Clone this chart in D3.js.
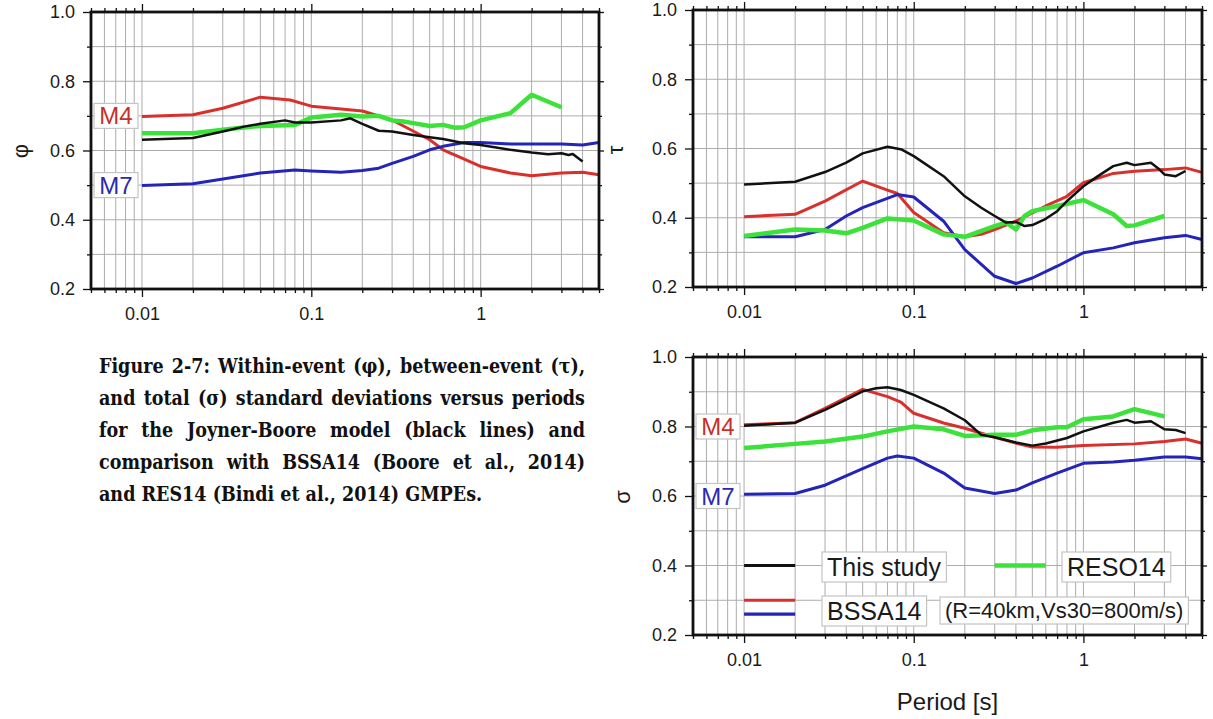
<!DOCTYPE html>
<html><head><meta charset="utf-8">
<script src="https://cdn.jsdelivr.net/npm/d3@7"></script>
<style>body{margin:0;background:#fff;} svg{display:block}</style>
</head><body>
<svg id="c" width="1213" height="719"></svg>
<script>
// ---------------- data ----------------
const xTickLabels = [0.01, 0.1, 1];
const yTickLabels = [0.2, 0.4, 0.6, 0.8, 1.0];
const yMinorTicks = [0.3, 0.5, 0.7, 0.9];

// within-event phi
const phiThisStudy = [[0.01,0.631],[0.02,0.636],[0.03,0.655],[0.04,0.669],[0.05,0.677],[0.07,0.687],[0.08,0.681],[0.1,0.681],[0.15,0.687],[0.17,0.693],[0.2,0.677],[0.25,0.657],[0.3,0.655],[0.4,0.645],[0.5,0.638],[0.6,0.633],[0.8,0.621],[1,0.616],[1.5,0.602],[2,0.594],[2.5,0.589],[3,0.592],[3.3,0.587],[3.5,0.59],[4,0.568]];
const phiBSSA_M4 = [[0.01,0.698],[0.02,0.703],[0.03,0.722],[0.05,0.754],[0.075,0.746],[0.1,0.728],[0.15,0.72],[0.2,0.714],[0.3,0.688],[0.5,0.631],[0.6,0.602],[0.8,0.575],[1,0.554],[1.5,0.535],[2,0.527],[3,0.535],[4,0.537],[5,0.530]];
const phiBSSA_M7 = [[0.01,0.499],[0.02,0.504],[0.05,0.535],[0.08,0.544],[0.1,0.541],[0.15,0.537],[0.2,0.542],[0.25,0.549],[0.3,0.563],[0.4,0.583],[0.5,0.602],[0.6,0.612],[0.8,0.623],[1,0.623],[1.5,0.619],[2,0.619],[3,0.619],[4,0.616],[5,0.623]];
const phiRESO14 = [[0.01,0.65],[0.02,0.65],[0.03,0.66],[0.05,0.671],[0.08,0.674],[0.1,0.695],[0.15,0.703],[0.2,0.698],[0.25,0.700],[0.3,0.687],[0.35,0.684],[0.4,0.679],[0.5,0.671],[0.6,0.674],[0.7,0.666],[0.8,0.667],[1,0.687],[1.5,0.708],[2,0.761],[3,0.725]];

// between-event tau
const tauThisStudy = [[0.01,0.496],[0.02,0.504],[0.03,0.532],[0.04,0.559],[0.05,0.586],[0.07,0.605],[0.085,0.597],[0.1,0.578],[0.15,0.52],[0.2,0.462],[0.25,0.429],[0.3,0.405],[0.35,0.386],[0.4,0.388],[0.45,0.376],[0.5,0.379],[0.6,0.397],[0.7,0.419],[0.8,0.448],[1,0.491],[1.2,0.518],[1.5,0.549],[1.8,0.559],[2,0.552],[2.5,0.559],[2.8,0.54],[3,0.525],[3.5,0.52],[4,0.535]];
const tauBSSA_M4 = [[0.01,0.403],[0.02,0.41],[0.03,0.448],[0.05,0.506],[0.07,0.48],[0.08,0.47],[0.1,0.415],[0.15,0.357],[0.2,0.345],[0.25,0.352],[0.3,0.366],[0.4,0.39],[0.5,0.414],[0.6,0.434],[0.8,0.462],[1,0.501],[1.5,0.528],[2,0.534],[3,0.539],[4,0.544],[5,0.531]];
const tauBSSA_M7 = [[0.01,0.345],[0.02,0.345],[0.03,0.366],[0.04,0.405],[0.05,0.429],[0.08,0.467],[0.1,0.46],[0.15,0.39],[0.2,0.308],[0.3,0.231],[0.4,0.21],[0.5,0.226],[0.7,0.26],[1,0.299],[1.5,0.313],[2,0.328],[3,0.342],[4,0.349],[5,0.337]];
const tauRESO14 = [[0.01,0.347],[0.02,0.366],[0.03,0.363],[0.04,0.355],[0.05,0.371],[0.07,0.398],[0.1,0.392],[0.15,0.352],[0.2,0.345],[0.3,0.376],[0.35,0.386],[0.4,0.366],[0.45,0.405],[0.5,0.419],[0.7,0.434],[1,0.451],[1.5,0.41],[1.8,0.376],[2,0.378],[3,0.405]];

// total sigma
const sigmaThisStudy = [[0.01,0.802],[0.02,0.811],[0.03,0.848],[0.04,0.877],[0.05,0.901],[0.06,0.91],[0.07,0.913],[0.084,0.905],[0.1,0.891],[0.15,0.852],[0.2,0.818],[0.25,0.776],[0.3,0.769],[0.4,0.754],[0.5,0.745],[0.6,0.751],[0.8,0.767],[1,0.786],[1.5,0.811],[1.8,0.819],[2,0.811],[2.5,0.815],[3,0.792],[3.5,0.79],[4,0.781]];
const sigmaBSSA_M4 = [[0.01,0.805],[0.02,0.811],[0.03,0.852],[0.05,0.907],[0.07,0.886],[0.084,0.87],[0.1,0.838],[0.15,0.81],[0.2,0.795],[0.3,0.769],[0.4,0.752],[0.5,0.741],[0.7,0.74],[1,0.745],[2,0.75],[3,0.757],[4,0.764],[5,0.752]];
const sigmaBSSA_M7 = [[0.01,0.605],[0.02,0.607],[0.03,0.631],[0.05,0.679],[0.07,0.709],[0.08,0.715],[0.1,0.709],[0.15,0.666],[0.2,0.623],[0.3,0.607],[0.4,0.617],[0.5,0.638],[0.7,0.666],[1,0.694],[1.5,0.698],[2,0.703],[3,0.712],[4,0.712],[5,0.707]];
const sigmaRESO14 = [[0.01,0.738],[0.02,0.75],[0.03,0.757],[0.05,0.771],[0.07,0.786],[0.1,0.8],[0.15,0.792],[0.2,0.773],[0.3,0.776],[0.4,0.776],[0.5,0.789],[0.7,0.798],[0.8,0.798],[1,0.821],[1.5,0.829],[2,0.85],[3,0.829]];

const legendLabels = ["This study", "RESO14", "BSSA14", "(R=40km,Vs30=800m/s)"];
const magLabels = ["M4", "M7"];
const captionLines = [
  "Figure 2-7: Within-event (\u03c6), between-event (\u03c4),",
  "and total (\u03c3) standard deviations versus periods",
  "for the Joyner-Boore model (black lines) and",
  "comparison with BSSA14 (Boore et al., 2014)",
  "and RES14 (Bindi et al., 2014) GMPEs."
];

// ---------------- styles ----------------
const C = {black:"#111111", red:"#d8302c", blue:"#2424b8", green:"#3ce23a"};
const W = {black:2.5, red:3, blue:3, green:4.5};
const SANS = "'Liberation Sans', Arial, Helvetica, sans-serif";
const svg = d3.select("#c");

const xGrid = [];
[0.001,0.01,0.1,1].forEach(d=>{ for(let m=1;m<=9;m++){ const v=+(m*d).toPrecision(3); if(v>=0.005 && v<=5) xGrid.push(v);} });
const xMajor = xTickLabels;
const xMinor = xGrid.filter(v=>!xMajor.includes(v));
const yGrid = [0.3,0.4,0.5,0.6,0.7,0.8,0.9];

function styleAxis(sel){
  sel.select(".domain").remove();
  sel.selectAll(".tick line").attr("stroke","#111").attr("stroke-width",1.3);
  sel.selectAll("text").attr("font-family",SANS).attr("font-size",18).attr("fill","#1a1a1a");
}

function drawPanel(cfg){
  const g = svg.append("g");
  const x = d3.scaleLog().domain([0.005,5]).range([cfg.left,cfg.right]);
  const y = d3.scaleLinear().domain([0.2,1.0]).range([cfg.bottom,cfg.top]);
  // grid
  g.append("g").selectAll("line").data(xGrid).join("line")
    .attr("x1",d=>x(d)).attr("x2",d=>x(d)).attr("y1",cfg.top).attr("y2",cfg.bottom)
    .attr("stroke","#acacac").attr("stroke-width",1);
  g.append("g").selectAll("line").data(yGrid).join("line")
    .attr("y1",d=>y(d)).attr("y2",d=>y(d)).attr("x1",cfg.left).attr("x2",cfg.right)
    .attr("stroke","#acacac").attr("stroke-width",1);
  // axes
  const ax = (gen, tx, ty)=> g.append("g").attr("transform",`translate(${tx},${ty})`).call(gen).call(styleAxis);
  ax(d3.axisBottom(x).tickValues(xMajor).tickSize(8).tickPadding(10).tickFormat(d=>String(d)), 0, cfg.bottom);
  ax(d3.axisBottom(x).tickValues(xMinor).tickSize(4).tickFormat(""), 0, cfg.bottom);
  ax(d3.axisTop(x).tickValues(xMajor).tickSize(8).tickFormat(""), 0, cfg.top);
  ax(d3.axisTop(x).tickValues(xMinor).tickSize(4).tickFormat(""), 0, cfg.top);
  ax(d3.axisLeft(y).tickValues(yTickLabels).tickSize(8).tickPadding(8).tickFormat(d3.format(".1f")), cfg.left, 0);
  ax(d3.axisLeft(y).tickValues(yMinorTicks).tickSize(4).tickFormat(""), cfg.left, 0);
  ax(d3.axisRight(y).tickValues(yTickLabels).tickSize(5).tickFormat(""), cfg.right, 0);
  ax(d3.axisRight(y).tickValues(yMinorTicks).tickSize(3).tickFormat(""), cfg.right, 0);
  // series
  const line = d3.line().x(d=>x(d[0])).y(d=>y(d[1]));
  cfg.series.forEach(s=>{
    g.append("path").attr("d",line(s.data)).attr("fill","none")
      .attr("stroke",C[s.c]).attr("stroke-width",W[s.c])
      .attr("stroke-linejoin","round").attr("stroke-linecap","butt");
  });
  // frame
  g.append("rect").attr("x",cfg.left).attr("y",cfg.top)
    .attr("width",cfg.right-cfg.left).attr("height",cfg.bottom-cfg.top)
    .attr("fill","none").attr("stroke","#111").attr("stroke-width",2.8);
  // y label (rotated)
  g.append("text").attr("transform",`translate(${cfg.ylabX},${cfg.ylabY}) rotate(-90)`)
    .attr("text-anchor","middle").attr("dy","0.35em")
    .attr("font-family",SANS).attr("font-size",22).attr("fill","#1a1a1a").text(cfg.ylabel);
  return {g,x,y};
}

function magBox(p, cfg, label, val, color){
  const cy = p.y(val);
  const bx = cfg.left + 3, bw = 44, bh = 25;
  p.g.append("rect").attr("x",bx).attr("y",cy-bh/2).attr("width",bw).attr("height",bh)
    .attr("fill","#fff").attr("stroke","#c4c4c4").attr("stroke-width",1.2);
  p.g.append("text").attr("x",bx+bw/2).attr("y",cy+8.6).attr("text-anchor","middle")
    .attr("font-family",SANS).attr("font-size",24).attr("fill",color).text(label);
}

const cfgPhi = {left:91,right:599,top:12,bottom:289,ylabel:"\u03c6",ylabX:20,ylabY:151,
  series:[{data:phiBSSA_M4,c:"red"},{data:phiBSSA_M7,c:"blue"},{data:phiRESO14,c:"green"},{data:phiThisStudy,c:"black"}]};
const cfgTau = {left:693,right:1202,top:10,bottom:287,ylabel:"\u03c4",ylabX:615,ylabY:150,
  series:[{data:tauBSSA_M4,c:"red"},{data:tauBSSA_M7,c:"blue"},{data:tauRESO14,c:"green"},{data:tauThisStudy,c:"black"}]};
const cfgSig = {left:693,right:1202,top:357,bottom:635,ylabel:"\u03c3",ylabX:622,ylabY:497,
  series:[{data:sigmaBSSA_M4,c:"red"},{data:sigmaBSSA_M7,c:"blue"},{data:sigmaRESO14,c:"green"},{data:sigmaThisStudy,c:"black"}]};

const pPhi = drawPanel(cfgPhi);
const pTau = drawPanel(cfgTau);
const pSig = drawPanel(cfgSig);

magBox(pPhi, cfgPhi, magLabels[0], 0.7, "#c8302c");
magBox(pPhi, cfgPhi, magLabels[1], 0.5, "#2a2ab0");
magBox(pSig, cfgSig, magLabels[0], 0.8, "#c8302c");
magBox(pSig, cfgSig, magLabels[1], 0.6, "#2a2ab0");

// legend
function legendLine(p, x0, x1, v, c){
  p.g.append("line").attr("x1",p.x(x0)).attr("x2",p.x(x1)).attr("y1",p.y(v)).attr("y2",p.y(v))
    .attr("stroke",C[c]).attr("stroke-width",c==="green"?4.5:3.2);
}
function legendText(p, tx, ty, str, fs){
  const t = p.g.append("text").attr("x",tx).attr("y",ty).attr("font-family",SANS)
    .attr("font-size",fs).attr("fill","#1a1a1a").text(str);
  const b = t.node().getBBox();
  p.g.insert("rect", () => t.node()).attr("x",b.x-5).attr("y",b.y-1).attr("width",b.width+10).attr("height",b.height+2)
    .attr("fill","#fff").attr("stroke","#c4c4c4").attr("stroke-width",1.2);
}
legendLine(pSig, 0.01, 0.02, 0.4, "black");
legendLine(pSig, 0.01, 0.02, 0.3, "red");
legendLine(pSig, 0.01, 0.02, 0.26, "blue");
legendLine(pSig, 0.3, 0.6, 0.4, "green");
legendText(pSig, 827, 576, legendLabels[0], 25);
legendText(pSig, 1067, 576, legendLabels[1], 25);
legendText(pSig, 827, 620, legendLabels[2], 25);
legendText(pSig, 945, 618, legendLabels[3], 22);

// x axis title
svg.append("text").attr("x",(cfgSig.left+cfgSig.right)/2).attr("y",710).attr("text-anchor","middle")
  .attr("font-family",SANS).attr("font-size",24).attr("fill","#1a1a1a").text("Period [s]");

// caption (justified, condensed to fit the column)
const capLeft = 99, capWidth = 486;
const capBase = [373, 405, 437, 469, 501];
const capFs = 19.5;
const cap = svg.append("g").attr("font-family","'DejaVu Serif Condensed', 'DejaVu Serif', serif")
  .attr("font-stretch","condensed").attr("font-weight","bold").attr("fill","#111");
function measure(str){ const t = cap.append("text").attr("font-size",capFs).text(str); const w = t.node().getComputedTextLength(); t.remove(); return w; }
const nat = captionLines.slice(0,4).map(l=>measure(l));
const sx = Math.min(1, capWidth/d3.max(nat));
cap.attr("transform",`translate(${capLeft},0) scale(${sx},1)`);
const target = capWidth/sx;
const spaceW = measure("a a")-measure("aa");
captionLines.forEach((ln,i)=>{
  const words = ln.split(" ");
  const ws = words.map(w=>measure(w));
  const gap = i<captionLines.length-1 ? (target-d3.sum(ws))/(words.length-1) : spaceW;
  let xx = 0;
  words.forEach((w,j)=>{ cap.append("text").attr("x",xx).attr("y",capBase[i]).attr("font-size",capFs).text(w); xx += ws[j]+gap; });
});
</script>
</body></html>
